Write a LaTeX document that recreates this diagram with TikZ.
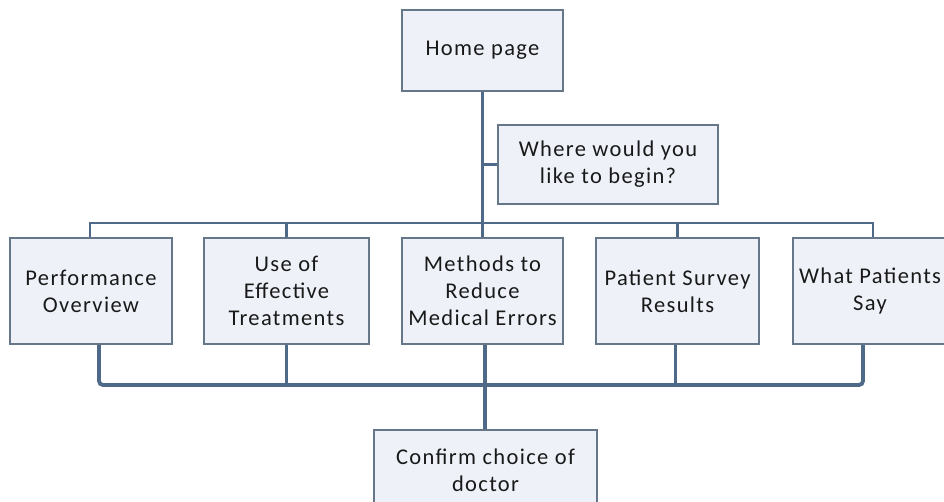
\documentclass[tikz,border=0pt]{standalone}
\usepackage{fontspec}
\setmainfont{Carlito}[LetterSpace=6]
\definecolor{boxfill}{HTML}{EEF2F8}
\definecolor{boxline}{HTML}{66778A}
\definecolor{conn}{HTML}{4F6A88}
\begin{document}
\begin{tikzpicture}[x=1pt,y=-1pt,
  card/.style={draw=boxline,line width=1.8pt,fill=boxfill,rectangle,align=center,
    inner sep=0pt,font=\fontsize{22.5}{27}\selectfont,text=black!90},
  topline/.style={draw=conn,line width=2.8pt},
  botline/.style={draw=conn,line width=3.8pt,rounded corners=4pt}]
\useasboundingbox (0,0) rectangle (944,502);
\clip (0,0) rectangle (944,502);
\node[card,minimum width=161pt,minimum height=81pt] (home) at (482.5,50.5) {Home page};
\node[card,minimum width=220pt,minimum height=79pt] (where) at (608,164.5) {Where would you\\like to begin?};
\node[card,minimum width=162pt,minimum height=106pt] (perf) at (91,291) {Performance\\Overview};
\node[card,minimum width=165pt,minimum height=106pt] (use) at (286.5,291) {Use of\\Effective\\Treatments};
\node[card,minimum width=161pt,minimum height=106pt] (meth) at (482.5,291) {Methods to\\Reduce\\Medical Errors};
\node[card,minimum width=163pt,minimum height=106pt] (pat) at (677.5,291) {Patient Survey\\Results};
\node[card,minimum width=154pt,minimum height=106pt] (what) at (870,291) {What Patients\\Say};
\node[card,minimum width=223pt,minimum height=80pt] (conf) at (485.5,470) {Confirm choice of\\doctor};
% top connectors
\coordinate (tl) at (90,223);
\coordinate (tr) at (873,223);
\draw[topline] ([xshift=-1pt]perf.north) |- (tr) -- ([xshift=3pt]what.north);
\draw[topline] (use.north) -- (use.north |- tl);
\draw[topline] (pat.north) -- (pat.north |- tl);
\draw[topline] (home.south) -- (meth.north);
\draw[topline] (home.south |- where.west) -- (where.west);
% bottom connectors
\coordinate (bl) at (99,385);
\draw[botline] ([xshift=8pt]perf.south) |- ([xshift=-7pt]what.south |- bl) -- ([xshift=-7pt]what.south);
\draw[botline] (use.south) -- (use.south |- bl);
\draw[botline] ([xshift=-2pt]pat.south) -- ([xshift=-2pt]pat.south |- bl);
\draw[botline] ([xshift=2.5pt]meth.south) -- ([xshift=2.5pt]meth.south |- conf.north);
\end{tikzpicture}
\end{document}
